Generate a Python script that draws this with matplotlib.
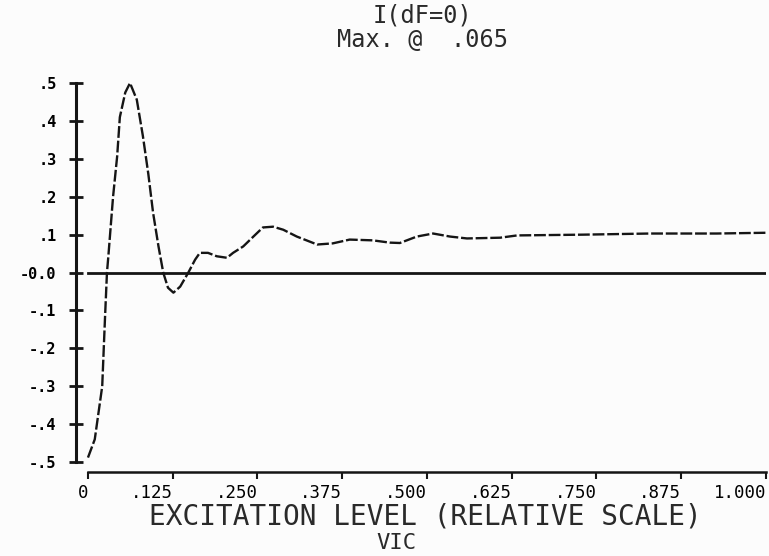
import matplotlib.pyplot as plt

# excitation level (relative) vs I(dF=0)
x = [0.000, 0.010, 0.021, 0.025, 0.028, 0.030, 0.037, 0.043, 0.047, 0.055, 0.062,
     0.072, 0.081, 0.089, 0.096, 0.104, 0.111, 0.118, 0.126, 0.136, 0.148, 0.158,
     0.165, 0.177, 0.190, 0.205, 0.214, 0.229, 0.244, 0.258, 0.273, 0.288, 0.308,
     0.338, 0.361, 0.386, 0.420, 0.445, 0.460, 0.485, 0.509, 0.534, 0.559, 0.608,
     0.633, 0.730, 0.829, 0.927, 1.000]
y = [-0.488, -0.440, -0.300, -0.124, 0.000, 0.042, 0.200, 0.306, 0.410, 0.475, 0.500,
     0.456, 0.360, 0.260, 0.158, 0.069, 0.000, -0.040, -0.053, -0.037, 0.000, 0.034,
     0.052, 0.052, 0.043, 0.039, 0.052, 0.069, 0.095, 0.119, 0.121, 0.113, 0.095,
     0.074, 0.077, 0.087, 0.085, 0.079, 0.078, 0.095, 0.103, 0.095, 0.090, 0.092,
     0.098, 0.100, 0.103, 0.103, 0.105]

xticks = [0, 0.125, 0.25, 0.375, 0.5, 0.625, 0.75, 0.875, 1.0]
xticklabels = ['0', '.125', '.250', '.375', '.500', '.625', '.750', '.875', '1.000']
yticks = [0.5, 0.4, 0.3, 0.2, 0.1, 0.0, -0.1, -0.2, -0.3, -0.4, -0.5]
yticklabels = ['.5', '.4', '.3', '.2', '.1', '-0.0', '-.1', '-.2', '-.3', '-.4', '-.5']

ink = '#151515'
txt = '#2a2a2a'
mono = 'DejaVu Sans Mono'

fig = plt.figure(figsize=(7.69, 5.56), dpi=100, facecolor='#fcfcfc')
ax = fig.add_axes([0.0988, 0.1511, 0.8973, 0.6996])
ax.set_facecolor('#fcfcfc')

ax.plot([0, 1], [0, 0], color=ink, lw=2.0)
ax.plot(x, y, color=ink, lw=1.7, ls=(0, (5, 1.2)))

ax.set_xlim(-0.0177, 1.0)
ax.set_ylim(-0.526, 0.5)
for s in ['top', 'right']:
    ax.spines[s].set_visible(False)
ax.spines['left'].set_bounds(-0.5, 0.5)
ax.spines['bottom'].set_bounds(0, 1)
ax.spines['left'].set_linewidth(2.2)
ax.spines['bottom'].set_linewidth(1.8)
ax.spines['left'].set_color(ink)
ax.spines['bottom'].set_color(ink)

ax.set_yticks(yticks)
ax.set_yticklabels(yticklabels, fontfamily=mono, fontweight='bold', fontsize=11)
ax.tick_params(axis='y', direction='inout', length=10, width=2, color=ink, pad=9)
ax.set_xticks(xticks)
ax.set_xticklabels(xticklabels, fontfamily=mono, fontsize=12.5, ha='right')
ax.tick_params(axis='x', direction='out', length=5, width=1.5, color=ink, pad=4)

fig.text(0.549, 1 - 23 / 556, 'I(dF=0)', ha='center', va='baseline', fontfamily=mono, fontsize=17, color=txt)
fig.text(0.550, 1 - 47 / 556, 'Max. @  .065', ha='center', va='baseline', fontfamily=mono, fontsize=17, color=txt)
fig.text(0.553, 1 - 525 / 556, 'EXCITATION LEVEL (RELATIVE SCALE)', ha='center', va='baseline',
         fontfamily=mono, fontsize=20, color=txt)
fig.text(0.516, 1 - 549 / 556, 'VIC', ha='center', va='baseline', fontfamily=mono, fontsize=16, color=txt)

fig.savefig('out.png', dpi=100, facecolor=fig.get_facecolor())
